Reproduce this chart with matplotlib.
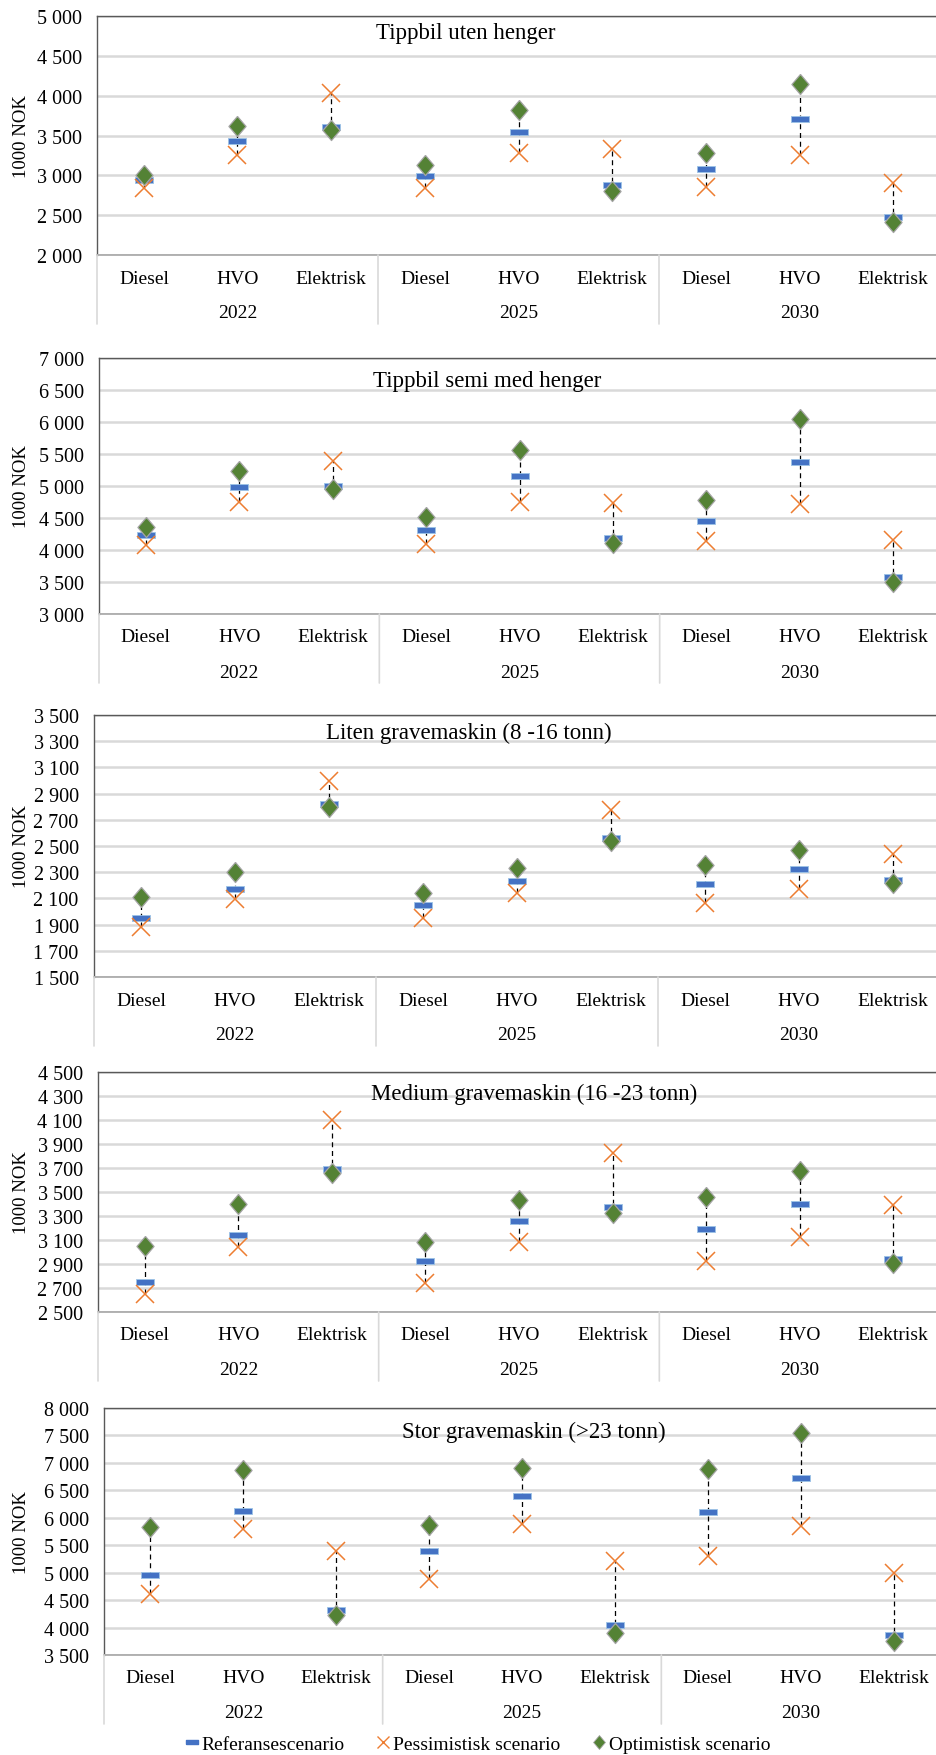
import matplotlib
matplotlib.use('Agg')
import matplotlib.pyplot as plt
from matplotlib.lines import Line2D
from matplotlib.ticker import FuncFormatter, FixedLocator
import numpy as np

plt.rcParams['font.family'] = ['Liberation Serif', 'DejaVu Serif']

# ---------------- data ----------------
fuels = ['Diesel', 'HVO', 'Elektrisk']
years = ['2022', '2025', '2030']
series_names = ['Referansescenario', 'Pessimistisk scenario', 'Optimistisk scenario']
titles = ['Tippbil uten henger', 'Tippbil semi med henger',
          'Liten gravemaskin (8 -16 tonn)', 'Medium gravemaskin (16 -23 tonn)',
          'Stor gravemaskin (>23 tonn)']
y_label = '1000 NOK'

tipp_ref = [2937, 3437, 3612, 2987, 3546, 2875, 3079, 3708, 2471]
tipp_pess = [2846, 3258, 4033, 2846, 3275, 3333, 2858, 3258, 2908]
tipp_opt = [3008, 3617, 3567, 3125, 3825, 2800, 3283, 4150, 2417]

semi_ref = [4234, 4990, 5005, 4318, 5156, 4182, 4458, 5380, 3573]
semi_pess = [4083, 4745, 5385, 4099, 4745, 4734, 4135, 4719, 4161]
semi_opt = [4365, 5240, 4948, 4510, 5563, 4109, 4776, 6047, 3505]

liten_ref = [1949, 2168, 2819, 2051, 2235, 2564, 2207, 2324, 2242]
liten_pess = [1878, 2094, 3000, 1949, 2138, 2776, 2064, 2171, 2441]
liten_opt = [2107, 2298, 2796, 2140, 2329, 2536, 2357, 2472, 2217]

medium_ref = [2750, 3144, 3693, 2922, 3255, 3371, 3188, 3396, 2938]
medium_pess = [2650, 3038, 4101, 2742, 3080, 3829, 2927, 3127, 3390]
medium_opt = [3047, 3396, 3657, 3086, 3435, 3324, 3457, 3679, 2905]

stor_ref = [4950, 6120, 4319, 5386, 6393, 4040, 6102, 6720, 3860]
stor_pess = [4616, 5799, 5386, 4889, 5890, 5204, 5301, 5859, 4998]
stor_opt = [5829, 6866, 4234, 5871, 6908, 3901, 6896, 7545, 3751]

y_min = [2000, 3000, 1500, 2500, 3500]
y_max = [5000, 7000, 3500, 4500, 8000]
y_step = [500, 500, 200, 200, 500]

# ---------------- layout (pixels) ----------------
W, H = 936, 1756
lefts = [97, 99, 94, 98, 104]
tops = [17, 359, 716, 1073, 1409]
bottoms = [256, 615, 978, 1313, 1656]
title_x = [466, 487, 469, 534, 534]
title_dy = [16, 22, 17, 21, 23]
right = 940

C_REF = '#4472C4'
C_PESS = '#ED7D31'
C_OPT = '#548235'
GRID = '#d9d9d9'

bar_verts = [(-1, -0.28), (1, -0.28), (1, 0.28), (-1, 0.28), (-1, -0.28)]
dia_verts = [(0, 1), (0.85, 0), (0, -1), (-0.85, 0), (0, 1)]

fig = plt.figure(figsize=(W / 100, H / 100), dpi=100)
fig.patch.set_facecolor('white')

refs = [tipp_ref, semi_ref, liten_ref, medium_ref, stor_ref]
pess = [tipp_pess, semi_pess, liten_pess, medium_pess, stor_pess]
opts = [tipp_opt, semi_opt, liten_opt, medium_opt, stor_opt]

fmt = FuncFormatter(lambda v, p: f"{v:,.0f}".replace(',', ' '))

labels = [f for _ in years for f in fuels]
xs = list(range(len(labels)))

for k in range(5):
    l, t, b = lefts[k], tops[k], bottoms[k]
    ax = fig.add_axes([l / W, 1 - b / H, (right - l) / W, (b - t) / H])
    ax.set_xlim(-0.5, len(labels) - 0.5)
    ax.set_ylim(y_min[k], y_max[k])
    ax.yaxis.set_major_locator(FixedLocator(np.arange(y_min[k], y_max[k] + 1, y_step[k])))
    ax.yaxis.set_major_formatter(fmt)
    ax.grid(axis='y', color=GRID, linewidth=1.8, zorder=0)
    ax.set_axisbelow(True)
    ax.tick_params(axis='y', length=0, pad=11, labelsize=14.5)
    ax.set_xticks([])
    for s in ['top', 'left']:
        ax.spines[s].set_color('#595959')
        ax.spines[s].set_linewidth(1.0)
    ax.spines['right'].set_visible(False)
    ax.spines['bottom'].set_color('#a6a6a6')
    ax.spines['bottom'].set_linewidth(1.2)

    r, p, o = refs[k], pess[k], opts[k]
    lo = [min(a, bb, c) for a, bb, c in zip(r, p, o)]
    hi = [max(a, bb, c) for a, bb, c in zip(r, p, o)]
    ax.vlines(xs, lo, hi, colors='black', linestyles=(0, (4, 3)), linewidth=0.9, zorder=2)
    ax.plot(xs, r, linestyle='none', marker=bar_verts, markersize=13.5,
            markerfacecolor=C_REF, markeredgecolor='#9dc3e6', markeredgewidth=0.6, zorder=3)
    ax.plot(xs, p, linestyle='none', marker='x', markersize=13.5,
            color=C_PESS, markeredgewidth=1.1, zorder=4)
    ax.plot(xs, o, linestyle='none', marker=dia_verts, markersize=14.5,
            markerfacecolor=C_OPT, markeredgecolor='#a5a5a5', markeredgewidth=0.9, zorder=5)

    for i, lab in enumerate(labels):
        ax.annotate(lab, xy=(i, 0), xycoords=('data', 'axes fraction'),
                    xytext=(0, -23), textcoords='offset pixels',
                    ha='center', va='center', fontsize=14)
    for j, yr in enumerate(years):
        ax.annotate(yr, xy=(j * 3 + 1, 0), xycoords=('data', 'axes fraction'),
                    xytext=(0, -58), textcoords='offset pixels',
                    ha='center', va='center', fontsize=14)
    for sx in [-0.5, 2.5, 5.5, 8.5]:
        ax.annotate('', xy=(sx, 0), xycoords=('data', 'axes fraction'),
                    xytext=(sx, -69), textcoords=('data', 'offset pixels'),
                    arrowprops=dict(arrowstyle='-', color=GRID, linewidth=1.2,
                                    shrinkA=0, shrinkB=0))

    fig.text(title_x[k] / W, 1 - (t + title_dy[k]) / H, titles[k],
             ha='center', va='center', fontsize=16.5)
    fig.text(21 / W, 1 - ((t + b) / 2) / H, y_label, rotation=90,
             ha='center', va='center', fontsize=13.5)

handles = [
    Line2D([], [], linestyle='none', marker=bar_verts, markersize=9,
           markerfacecolor=C_REF, markeredgecolor=C_REF),
    Line2D([], [], linestyle='none', marker='x', markersize=9,
           color=C_PESS, markeredgewidth=1.0),
    Line2D([], [], linestyle='none', marker=dia_verts, markersize=10,
           markerfacecolor=C_OPT, markeredgecolor='#a5a5a5', markeredgewidth=0.6),
]
fig.legend(handles, series_names, loc='center', bbox_to_anchor=(478 / W, 1 - 1745 / H),
           ncol=3, frameon=False, fontsize=14, handlelength=0.6, handletextpad=0.2,
           columnspacing=1.7)

fig.savefig('out.png', dpi=100, facecolor='white')
